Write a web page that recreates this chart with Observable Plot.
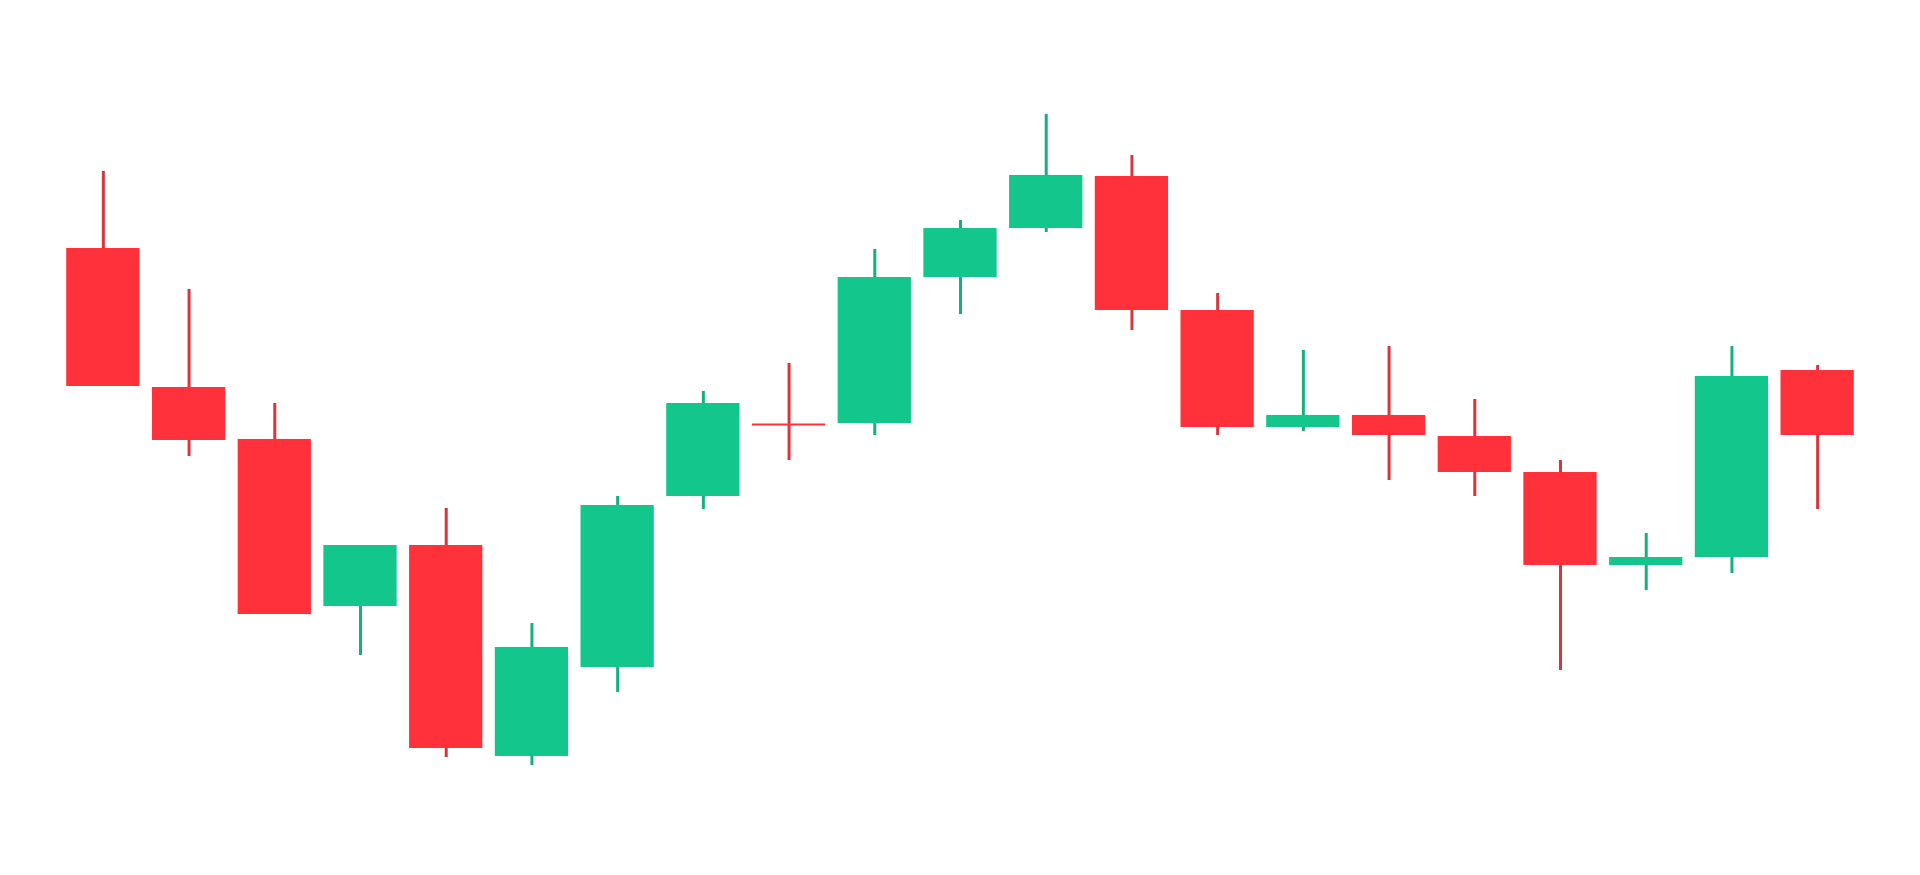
<!DOCTYPE html>
<html>
<head>
<meta charset="utf-8">
<script src="https://cdn.jsdelivr.net/npm/d3@7"></script>
<script src="https://cdn.jsdelivr.net/npm/@observablehq/plot@0.6"></script>
<style>
  html, body { margin: 0; padding: 0; background: #ffffff; }
  #chart svg { display: block; }
</style>
</head>
<body>
<div id="chart"></div>
<script>
// Candle values (price units)
const opens  = [62.7, 48.8, 43.6, 26.9, 33.0, 11.9, 20.8, 37.9, 45.1, 45.2, 59.8, 64.7, 69.9, 56.5, 44.8, 46.0, 43.9, 40.3, 31.0, 31.8, 50.5];
const closes = [48.9, 43.5, 26.1, 33.0, 12.7, 22.8, 37.0, 47.2, 45.1, 59.8, 64.7, 70.0, 56.5, 44.8, 46.0, 44.0, 40.3, 31.0, 31.8, 49.9, 44.0];
const highs  = [70.4, 58.6, 47.2, 33.0, 36.7, 25.2, 37.9, 48.4, 51.2, 62.6, 65.5, 76.1, 72.0, 58.2, 52.5, 52.9, 47.6, 41.5, 34.2, 52.9, 51.0];
const lows   = [48.9, 41.9, 26.1, 22.0, 11.8, 11.0, 18.3, 36.6, 41.5, 44.0, 56.1, 64.3, 54.5, 44.0, 44.4, 39.5, 37.9, 20.5, 28.5, 30.2, 36.6];

const candles = opens.map((o, i) => ({
  i,
  open: o,
  close: closes[i],
  high: highs[i],
  low: lows[i],
  up: closes[i] > o
}));

const bodyUp = "#13c68c", bodyDown = "#ff323b";
const wickUp = "#16b07f", wickDown = "#d8363f";

const chart = Plot.plot({
  width: 1920,
  height: 875,
  marginTop: 0,
  marginBottom: 0,
  marginLeft: 60,
  marginRight: 60,
  style: { background: "#ffffff" },
  x: { type: "band", domain: candles.map(d => d.i), paddingInner: 0.145, paddingOuter: 0.0725, round: false, axis: null },
  y: { domain: [0, 87.5], axis: null },
  marks: [
    Plot.ruleX(candles, {
      x: "i", y1: "low", y2: "high",
      stroke: d => d.up ? wickUp : wickDown,
      strokeWidth: 3
    }),
    Plot.barY(candles, {
      x: "i", y1: "open", y2: "close",
      fill: d => d.up ? bodyUp : bodyDown
    }),
    Plot.tickY(candles.filter(d => d.open === d.close), {
      x: "i", y: "close",
      stroke: bodyDown,
      strokeWidth: 2
    })
  ]
});

document.getElementById("chart").appendChild(chart);
</script>
</body>
</html>
